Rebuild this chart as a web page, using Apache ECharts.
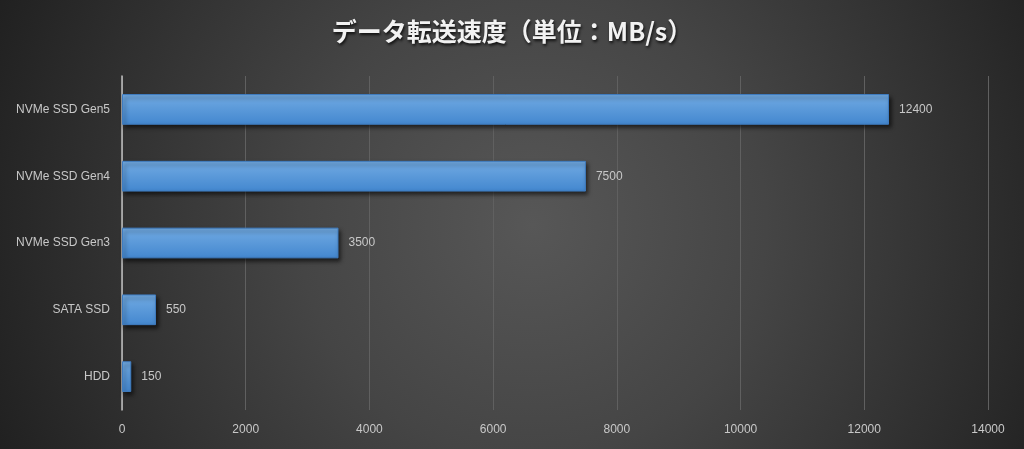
<!DOCTYPE html>
<html><head><meta charset="utf-8">
<script src="https://cdn.jsdelivr.net/npm/echarts@6/dist/echarts.min.js"></script>
<style>html,body{margin:0;padding:0;}#c{width:1024px;height:449px;}</style>
</head><body><div id="c"></div>
<script>
const categories = ['HDD', 'SATA SSD', 'NVMe SSD Gen3', 'NVMe SSD Gen4', 'NVMe SSD Gen5'];
const speeds = [150, 550, 3500, 7500, 12400];
const titleText = 'データ転送速度（単位：MB/s）';

const labelFont = 'Liberation Sans Narrow, Liberation Sans, sans-serif';
const chart = echarts.init(document.getElementById('c'));
chart.setOption({
  animation: false,
  backgroundColor: {
    type: 'radial', x: 0.52, y: 0.5, r: 1.3,
    colorStops: [{offset: 0, color: '#575757'}, {offset: 0.4, color: '#454545'}, {offset: 1, color: '#202020'}]
  },
  title: {
    text: titleText, left: 'center', top: 14,
    textStyle: {
      color: '#f2f2f2', fontSize: 25, fontWeight: 'bold',
      fontFamily: 'Noto Sans CJK JP',
      textShadowColor: 'rgba(0,0,0,0.8)', textShadowBlur: 3, textShadowOffsetX: 1, textShadowOffsetY: 2
    }
  },
  grid: {left: 122, right: 36, top: 76, bottom: 39, containLabel: false},
  xAxis: {
    type: 'value', min: 0, max: 14000, interval: 2000,
    axisLine: {show: false}, axisTick: {show: false},
    splitLine: {lineStyle: {color: '#606060', width: 1}},
    axisLabel: {color: '#c8c8c8', fontSize: 12, margin: 14, fontFamily: labelFont,
      formatter: v => String(v)}
  },
  yAxis: {
    type: 'category', data: categories,
    axisLine: {show: true, lineStyle: {color: '#bfbfbf', width: 1.5}},
    axisTick: {show: false},
    axisLabel: {color: '#c8c8c8', fontSize: 12, margin: 12, fontFamily: labelFont}
  },
  series: [{
    type: 'bar', data: speeds, barCategoryGap: '54%',
    itemStyle: {
      color: {type: 'linear', x: 0, y: 0, x2: 0, y2: 1,
        colorStops: [{offset: 0, color: '#72abe3'}, {offset: 1, color: '#4387cf'}]},
      borderColor: '#3f7cc0', borderWidth: 1,
      shadowColor: 'rgba(0,0,0,0.6)', shadowBlur: 4, shadowOffsetX: 2, shadowOffsetY: 3
    },
    label: {show: true, position: 'right', distance: 10, color: '#c8c8c8', fontSize: 12,
      fontFamily: labelFont}
  }]
});
</script></body></html>
